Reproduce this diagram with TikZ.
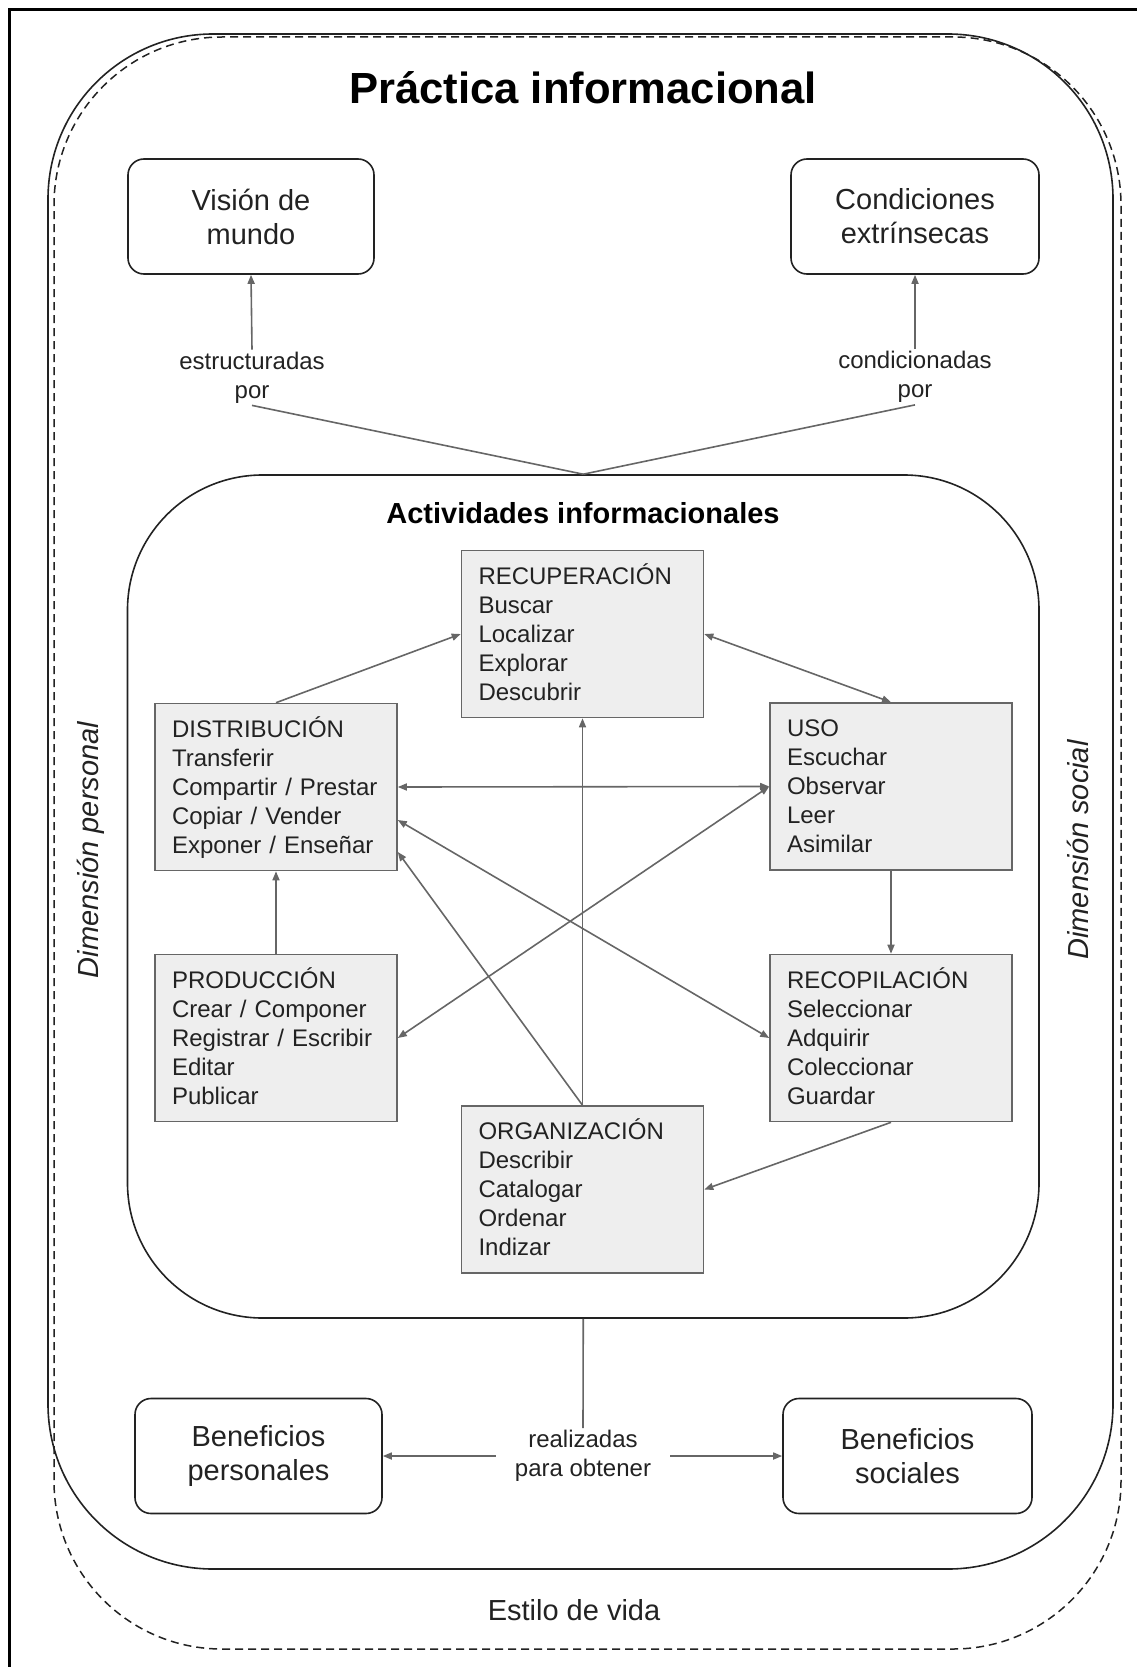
\documentclass[tikz,border=0pt]{standalone}
\usepackage{fontspec}
\setmainfont{Liberation Sans}
\usetikzlibrary{arrows.meta,calc}
\definecolor{linegray}{HTML}{666666}
\definecolor{boxfill}{HTML}{EEEEEE}
\definecolor{ink}{HTML}{222222}
\newcommand\topstrut{\rule{0pt}{25pt}}
\begin{document}
\begin{tikzpicture}[x=1pt,y=-1pt,
  every node/.style={text=ink},
  rbox/.style={draw=ink, line width=1.6pt, rounded corners=16pt, minimum width=247pt, minimum height=115pt, align=center, font=\fontsize{29}{34}\selectfont, inner sep=0pt},
  actbox/.style={draw=linegray, line width=1.6pt, fill=boxfill, minimum width=242pt, minimum height=167pt, text width=208pt, inner xsep=17pt, inner ysep=0pt, align=left, font=\fontsize{24}{29}\selectfont},
  lbl/.style={align=center, font=\fontsize{24}{29}\selectfont, inner sep=2pt},
  conn/.style={draw=linegray, line width=1.6pt},
  arr/.style={conn, -{Triangle[length=9pt,width=7pt]}},
  darr/.style={conn, {Triangle[length=9pt,width=7pt]}-{Triangle[length=9pt,width=7pt]}},
  bigtext/.style={font=\fontsize{29}{34}\selectfont},
]
\useasboundingbox (0,0) rectangle (1136,1667);
% page frame
\draw[line width=3pt, black] (9.5,1690) -- (9.5,9.5) -- (1140,9.5);
% Estilo de vida (dashed)
\node[draw=ink, line width=1.5pt, dash pattern=on 8pt off 5pt, rounded corners=168pt, minimum width=1067pt, minimum height=1612pt, inner sep=0pt] (estilo) at (587.5,843) {};
% Practica informacional (solid)
\node[draw=ink, line width=1.6pt, rounded corners=165pt, minimum width=1065pt, minimum height=1535pt, inner sep=0pt] (practica) at (580.5,801.5) {};
\node[font=\bfseries\fontsize{43.6}{52}\selectfont, anchor=base, text=black] (title) at (583,103.6) {Práctica informacional};

\node[rbox, minimum width=246pt] (vision) at (251,216.5) {Visión de\\mundo};
\node[rbox, minimum width=248pt] (cond) at (915,216.5) {Condiciones\\extrínsecas};
\node[lbl] (estr) at (252,377.5) {estructuradas\\por};
\node[lbl] (condp) at (915,377) {condicionadas\\por};

% Actividades
\node[draw=ink, line width=1.6pt, rounded corners=135pt, minimum width=911.5pt, minimum height=843pt, inner sep=0pt] (act) at (583.25,896.5) {};
\node[font=\bfseries\fontsize{29}{34}\selectfont, anchor=base, text=black] (acttitle) at (583,523) {Actividades informacionales};

\node[actbox] (rec) at (582.5,634) {\topstrut RECUPERACIÓN\\Buscar\\Localizar\\Explorar\\Descubrir\strut};
\node[actbox] (dis) at (276,787) {\topstrut DISTRIBUCIÓN\\Transferir\\Compartir / Prestar\\Copiar / Vender\\Exponer / Enseñar\strut};
\node[actbox] (uso) at (891,786.5) {\topstrut USO\\Escuchar\\Observar\\Leer\\Asimilar\strut};
\node[actbox] (pro) at (276,1038) {\topstrut PRODUCCIÓN\\Crear / Componer\\Registrar / Escribir\\Editar\\Publicar\strut};
\node[actbox] (rcp) at (891,1038) {\topstrut RECOPILACIÓN\\Seleccionar\\Adquirir\\Coleccionar\\Guardar\strut};
\node[actbox] (org) at (582.5,1189.5) {\topstrut ORGANIZACIÓN\\Describir\\Catalogar\\Ordenar\\Indizar\strut};

% bottom
\node[rbox] (bp) at (258.5,1456) {Beneficios\\personales};
\node[rbox, minimum width=249pt] (bs) at (907.5,1456) {Beneficios\\sociales};
\node[lbl, inner xsep=19pt] (real) at (583,1456) {realizadas\\para obtener};

% side labels
\node[rotate=90, font=\itshape\fontsize{29}{34}\selectfont] (dimp) at (91,850) {Dimensión personal};
\node[rotate=90, font=\itshape\fontsize{29}{34}\selectfont] (dims) at (1078,850) {Dimensión social};
\node[bigtext, anchor=base] (estilolbl) at (574,1620) {Estilo de vida};

% connectors top
\draw[arr] (estr.north) -- (vision.south);
\draw[arr] (condp.north) -- (cond.south);
\draw[conn] (estr.south) -- (act.north);
\draw[conn] (condp.south) -- (act.north);

% activity connectors
\draw[arr] (dis.north) -- (rec.west);
\draw[darr] (rec.east) -- (uso.north);
\draw[darr] (dis.east) -- (uso.west);
\draw[darr] (pro.east) -- (uso.west);
\draw[darr] ($(dis.east)+(0,33)$) -- (rcp.west);
\draw[arr] (org.north) -- ($(dis.east)+(0,65)$);
\draw[arr] (org.north) -- (rec.south);
\draw[arr] (pro.north) -- (dis.south);
\draw[arr] (uso.south) -- (rcp.north);
\draw[arr] (rcp.south) -- (org.east);

% bottom connectors
\draw[conn] (act.south) -- (real.north);
\draw[arr] (real.west) -- (bp.east);
\draw[arr] (real.east) -- (bs.west);
\end{tikzpicture}
\end{document}
